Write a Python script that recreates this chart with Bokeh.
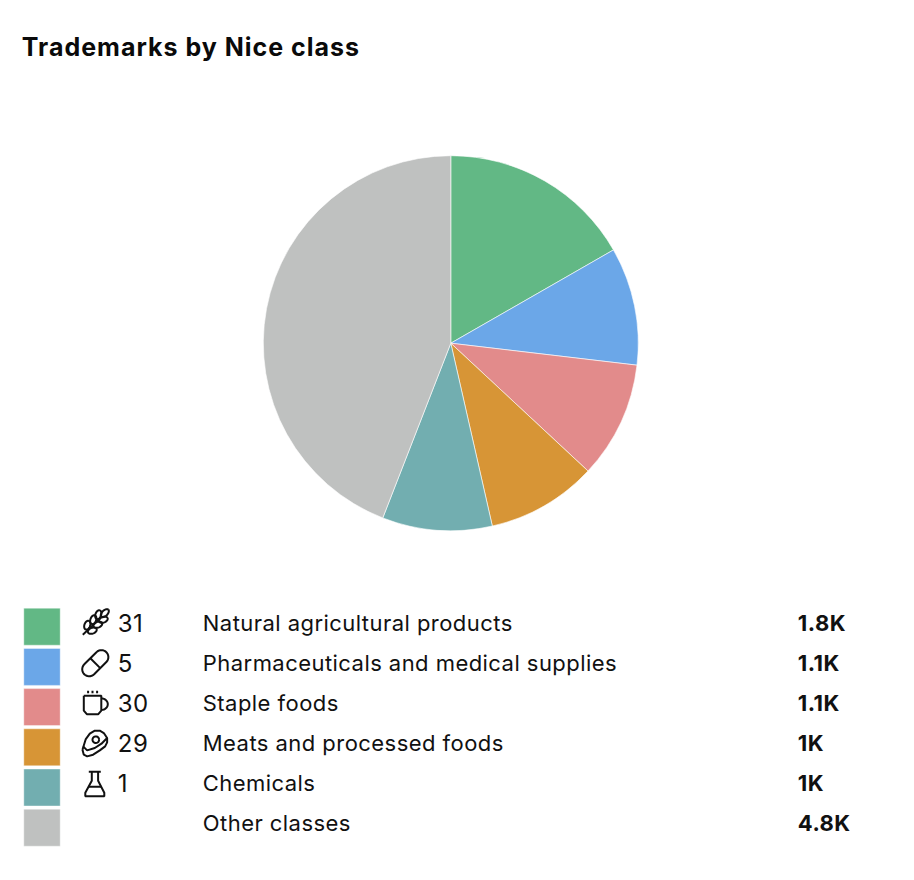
import numpy as np
from bokeh.plotting import figure
from bokeh.layouts import column
from bokeh.models import Range1d
from bokeh.core.properties import value
from bokeh.embed import file_html
from bokeh.resources import INLINE

title = "Trademarks by Nice class"
class_numbers = ["31", "5", "30", "29", "1", ""]
labels = ["Natural agricultural products", "Pharmaceuticals and medical supplies", "Staple foods",
          "Meats and processed foods", "Chemicals", "Other classes"]
value_labels = ["1.8K", "1.1K", "1.1K", "1K", "1K", "4.8K"]
values = [1810, 1100, 1090, 1030, 1025, 4775]
colors = ["#62b885", "#6ba7e8", "#e28b8b", "#d79536", "#72aeb0", "#bfc1c0"]

W = 898
FONT = value("Inter")
INK = "#111111"
DX, DY = 0.7, 0.8

def Y(py):
    return 880 - py

def make(height, top, spacing):
    f = figure(width=W, height=height, x_range=Range1d(DX, W + DX),
               y_range=Range1d(Y(top + height + DY), Y(top + DY)),
               toolbar_location=None, output_backend="svg", min_border=0, outline_line_color=None)
    f.axis.visible = False
    f.grid.visible = False
    f.styles = {"letter-spacing": spacing}
    return f

head = make(80, 0, "1px")
head.text(x=[22], y=[Y(47)], text=[title], text_font=FONT, text_font_size="25px", text_font_style="bold",
          text_color="#0a0a0a", text_baseline="middle", text_align="left")

p = make(784, 80, "0.45px")

# pie
vals = np.array(values, dtype=float)
cum = np.concatenate([[0], np.cumsum(vals)]) / vals.sum() * 2 * np.pi
start = np.pi / 2 - cum[:-1]
end = np.pi / 2 - cum[1:]
p.wedge(x=451, y=Y(343.5), radius=187.5, start_angle=start, end_angle=end, direction="clock",
        fill_color=colors, line_color="white", line_width=0.6)

# legend rows
rows = np.arange(len(labels))
row_y = [Y(623 + 40.1 * i) for i in rows]
swatch_y = [Y(627 + 40.2 * i) for i in rows]
p.rect(x=42.2, y=swatch_y, width=36.4, height=37, fill_color=colors, line_color="white", line_alpha=0.4, line_width=1)
p.text(x=118, y=row_y, text=class_numbers, text_font=FONT, text_font_size="24px", text_color=INK,
       text_baseline="middle", text_align="left")
p.text(x=203, y=row_y, text=labels, text_font=FONT, text_font_size="22px", text_color=INK,
       text_baseline="middle", text_align="left")
p.text(x=798, y=row_y, text=value_labels, text_font=FONT, text_font_size="22px", text_font_style="bold",
       text_color=INK, text_baseline="middle", text_align="left")

# icons, drawn as thin outlines
def rot(xy, a, c):
    a = np.radians(a)
    x, y = xy
    return c[0] + x*np.cos(a) - y*np.sin(a), Y(c[1] + x*np.sin(a) + y*np.cos(a))

def leaf(c, a, l=4.6, w=2.9):
    t = np.linspace(0, 2*np.pi, 30)
    return rot((l*np.cos(t), w*np.sin(t)), a, c)

xs, ys = [], []
def add(xy):
    xs.append(list(xy[0])); ys.append(list(xy[1]))

# wheat
add(([83, 101], [Y(635), Y(618)]))
for c in [(87.5, 625.5), (93.5, 620), (98.5, 615)]:
    add(leaf(c, -70))
for c in [(92.5, 631), (98, 625), (103.5, 620)]:
    add(leaf(c, -20))
add(leaf((105, 613.5), -45, 5, 2.8))

# pill
t = np.linspace(-np.pi/2, np.pi/2, 16)
r = 7.0; L = 8.6
px_ = np.concatenate([L + r*np.cos(t), -L - r*np.cos(t), [L]])
py_ = np.concatenate([r*np.sin(t), -r*np.sin(t), [-r]])
add(rot((px_, py_), -45, (95.5, 663.5)))
add(rot((np.array([0, 0]), np.array([-r, r])), -45, (95.5, 663.5)))

# cup
add(([84, 84, 87, 98.5, 101.5, 101.5, 84], [Y(v) for v in (696, 711, 714.5, 714.5, 711, 696, 696)]))
t = np.linspace(-np.pi/2, np.pi/2, 16)
add((101.5 + 6.5*np.cos(t), Y(704.5) + 5.8*np.sin(t)))
for x0 in (88.3, 92.7, 97.3):
    add(([x0, x0], [Y(691), Y(693.5)]))

# meat
mx = np.array([248, 258, 270, 285, 300, 312, 322, 322, 316, 300, 280, 262, 252, 248])
my = np.array([90, 58, 42, 33, 33, 40, 55, 68, 80, 92, 105, 110, 105, 90])
add((mx / 3, [Y(720 + v / 3) for v in my]))
ex = np.array([250, 262, 285, 305, 322])
ey = np.array([80, 92, 85, 72, 55])
add((ex / 3, [Y(720 + v / 3) for v in ey]))
t = np.linspace(0, 2*np.pi, 30)
add((96 + 3.3*np.cos(t), Y(740) + 3.3*np.sin(t)))

# flask
add(([92, 92, 85.5, 85.5, 104.5, 104.5, 98.3, 98.3], [Y(v) for v in (772, 781, 793, 796.5, 796.5, 793, 781, 772)]))
add(([89, 101], [Y(772), Y(772)]))
add(([88.5, 101.5], [Y(787), Y(787)]))

p.multi_line(xs=xs, ys=ys, line_color=INK, line_width=2)

layout = column(head, p, spacing=0)
open("out.html", "w").write(file_html(layout, INLINE))
